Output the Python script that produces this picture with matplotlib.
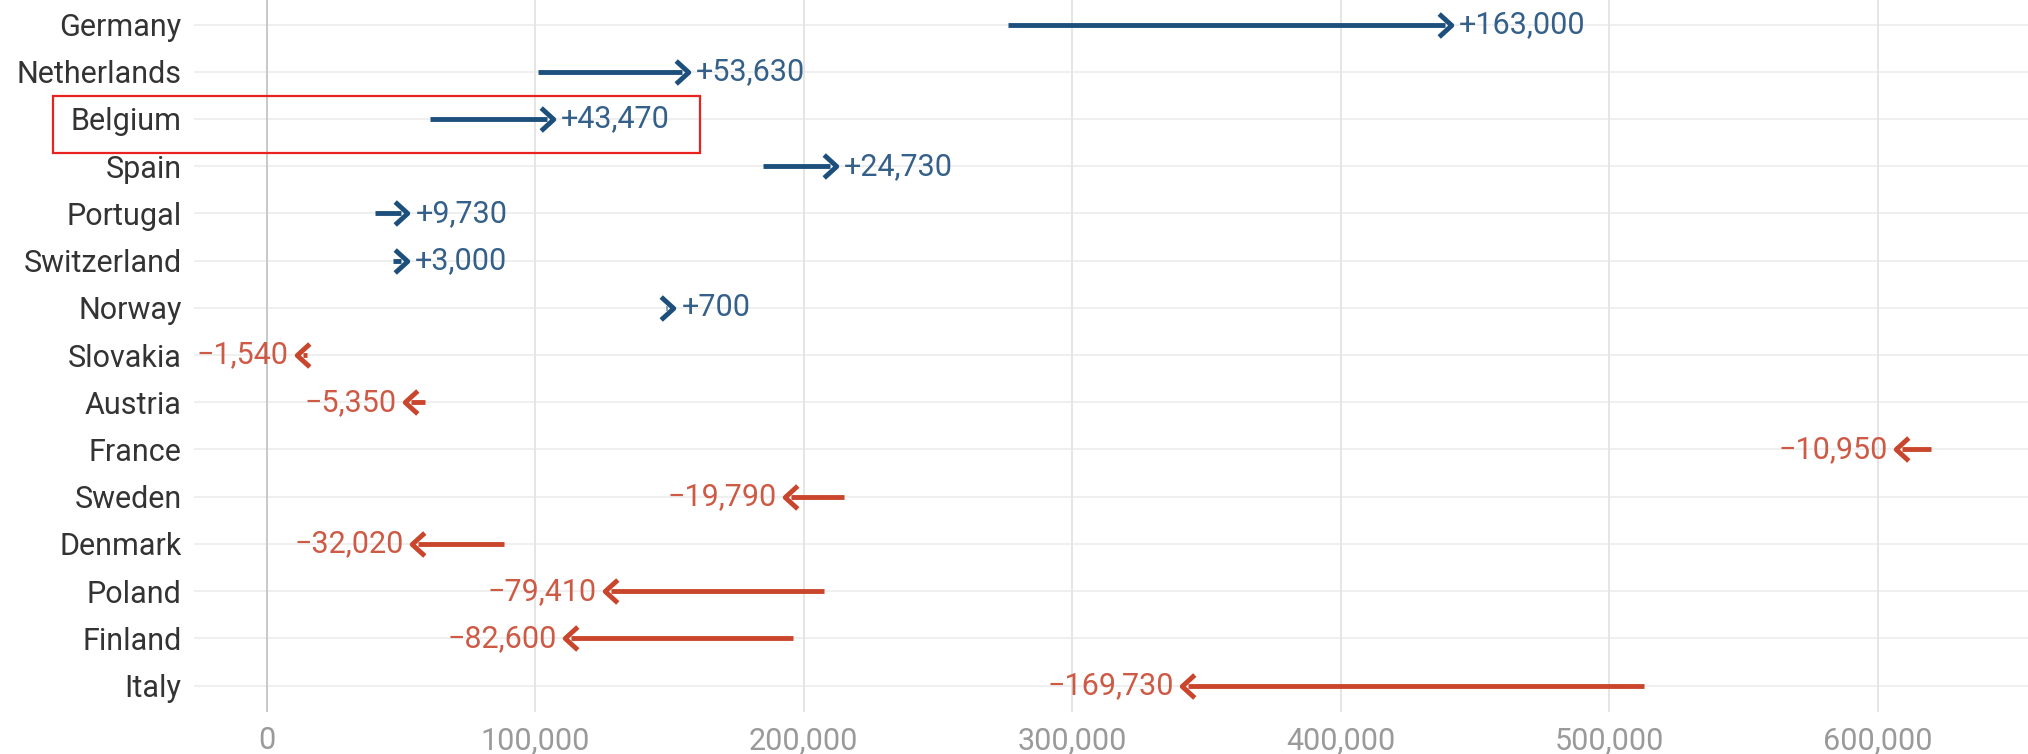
import matplotlib
matplotlib.use("Agg")
import matplotlib.pyplot as plt
import matplotlib.patches as patches
from matplotlib.path import Path

# Countries top to bottom, arrow start and end values
countries = ["Germany", "Netherlands", "Belgium", "Spain", "Portugal", "Switzerland",
             "Norway", "Slovakia", "Austria", "France", "Sweden", "Denmark",
             "Poland", "Finland", "Italy"]
start_vals = [276000, 101000, 61000, 185000, 40500, 47000,
              148600, 15000, 59000, 620000, 215000, 88500,
              207500, 196000, 513000]
end_vals = [439000, 154630, 104470, 209730, 50230, 50000,
            149300, 13460, 53650, 609050, 195210, 56480,
            128090, 113400, 343270]
change_labels = ["+163,000", "+53,630", "+43,470", "+24,730", "+9,730", "+3,000",
                 "+700", "\u22121,540", "\u22125,350", "\u221210,950", "\u221219,790",
                 "\u221232,020", "\u221279,410", "\u221282,600", "\u2212169,730"]
x_ticks = [0, 100000, 200000, 300000, 400000, 500000, 600000]
x_ticklabels = ["0", "100,000", "200,000", "300,000", "400,000", "500,000", "600,000"]

blue_line, blue_text = "#1d4f7d", "#35608a"
red_line, red_text = "#c9452c", "#cd5a45"

plt.rcParams["font.family"] = ["Roboto", "DejaVu Sans"]

fig = plt.figure(figsize=(20.28, 7.54), dpi=100)
ax = fig.add_axes([0.0957, 0.0557, 0.9043, 0.9443])

# open chevron heads (tip at origin side)
right_head = Path([(-0.55, 1), (0.55, 0), (-0.55, -1)], [Path.MOVETO, Path.LINETO, Path.LINETO])
left_head = Path([(0.55, 1), (-0.55, 0), (0.55, -1)], [Path.MOVETO, Path.LINETO, Path.LINETO])

for i, (s, e, lab) in enumerate(zip(start_vals, end_vals, change_labels)):
    up = e >= s
    lc = blue_line if up else red_line
    tc = blue_text if up else red_text
    ax.plot([s, e], [i, i], color=lc, lw=3.5, solid_capstyle="butt", zorder=3)
    ax.plot([e], [i], marker=right_head if up else left_head, markersize=16.5,
            markerfacecolor="none", markeredgecolor=lc, markeredgewidth=3.5, zorder=4)
    if up:
        ax.annotate(lab, (e, i), textcoords="offset points", xytext=(10, 0),
                    ha="left", va="center", color=tc, fontsize=22)
    else:
        ax.annotate(lab, (e, i), textcoords="offset points", xytext=(-10, 0),
                    ha="right", va="center", color=tc, fontsize=22)

ax.set_xlim(-27000, 656000)
ax.set_ylim(14.56, -0.52)
ax.set_yticks(range(len(countries)))
ax.set_yticklabels(countries, fontsize=22, color="#333333")
ax.set_xticks(x_ticks)
ax.set_xticklabels(x_ticklabels, fontsize=22, color="#9a9a9a")
ax.tick_params(axis="both", length=0)
ax.tick_params(axis="y", pad=9)
ax.tick_params(axis="x", pad=10)

for x in x_ticks:
    ax.axvline(x, color="#c4c4c4" if x == 0 else "#e3e3e3", lw=1.3, zorder=1)
for i in range(len(countries)):
    ax.axhline(i, color="#eeeeee", lw=1.3, zorder=0)

for sp in ax.spines.values():
    sp.set_visible(False)

# red highlight box around Belgium
fig.patches.append(patches.Rectangle((0.0261, 0.7976), 0.319, 0.0755, transform=fig.transFigure,
                                     fill=False, edgecolor="#e8231f", lw=1.6, zorder=10))

fig.savefig("out.png", dpi=100)
